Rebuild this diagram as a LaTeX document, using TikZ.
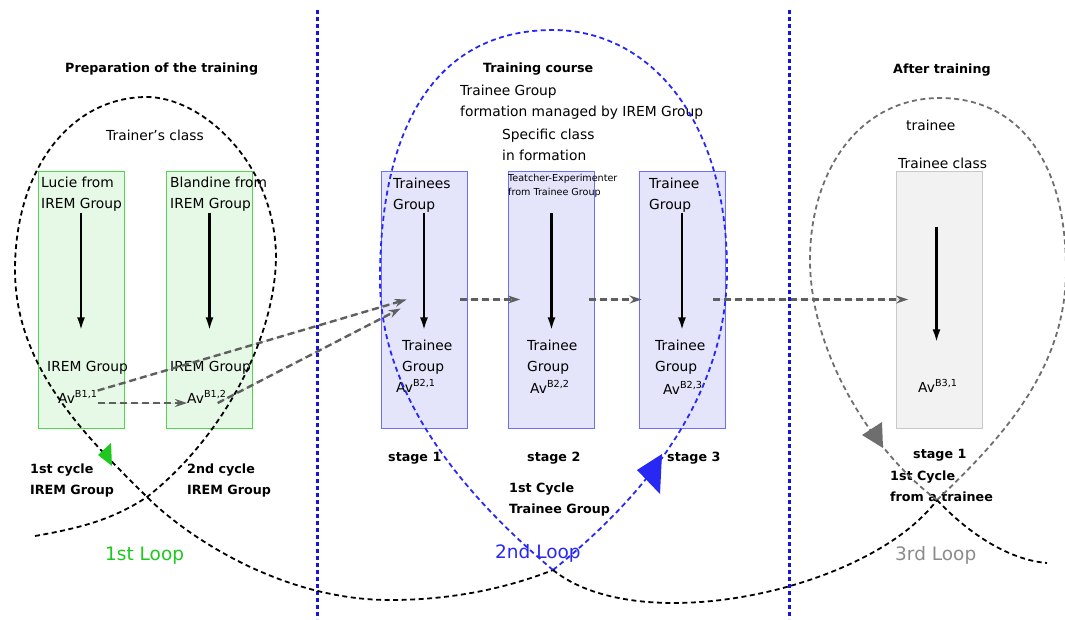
\documentclass[tikz,border=0pt]{standalone}
\usepackage{fontspec}
\setmainfont{DejaVu Sans}
\usetikzlibrary{arrows.meta, positioning}

\definecolor{boxgreen}{RGB}{80,215,80}
\definecolor{fillgreen}{RGB}{230,248,230}
\definecolor{boxblue}{RGB}{110,110,250}
\definecolor{fillblue}{RGB}{228,228,250}
\definecolor{boxgray}{RGB}{200,200,200}
\definecolor{fillgray}{RGB}{242,242,242}
\definecolor{loopgreen}{RGB}{30,200,30}
\definecolor{loopblue}{RGB}{40,40,245}
\definecolor{loopgray}{RGB}{110,110,110}
\definecolor{flowgray}{RGB}{95,95,95}
\definecolor{divblue}{RGB}{20,20,220}

\begin{document}
\begin{tikzpicture}[
    x=1pt, y=-1pt,
    greenbox/.style={rectangle, draw=boxgreen, fill=fillgreen, thick, minimum width=86pt, minimum height=257pt, inner sep=0pt},
    bluebox/.style={greenbox, draw=boxblue, fill=fillblue},
    graybox/.style={greenbox, draw=boxgray, fill=fillgray},
    txt/.style={anchor=base west, inner sep=0pt, font=\fontsize{13.8}{16}\selectfont},
    bold/.style={txt, font=\fontsize{12.7}{15}\selectfont\bfseries},
    small/.style={txt, font=\fontsize{9.6}{11}\selectfont},
    looplabel/.style={txt, font=\fontsize{18.5}{22}\selectfont},
    nextline/.style={below=21.5pt of #1.base west, anchor=base west},
    down_arrow/.style={-{Latex[length=13pt, width=8pt]}, line width=2.4pt},
    flow/.style={-{Stealth[length=12pt, width=8pt]}, draw=flowgray, fill=flowgray, line width=2.4pt, dash pattern=on 7pt off 4pt},
    divider/.style={draw=divblue, line width=3pt, dash pattern=on 4pt off 3pt},
    loopline/.style={line width=1.8pt, dash pattern=on 5pt off 3.5pt},
]
\useasboundingbox (0,0) rectangle (1065,619);

%% NODES
    % boxes
    \node[greenbox] (lucie_box) at (81,299.5) {};
    \node[greenbox] (blandine_box) at (209.5,299.5) {};
    \node[bluebox] (trainees_box) at (424,299.5) {};
    \node[bluebox] (experimenter_box) at (551.5,299.5) {};
    \node[bluebox] (trainee_box) at (682,299.5) {};
    \node[graybox] (class_box) at (939.5,299.5) {};

    % titles
    \node[bold] (prep_title) at (65,72) {Preparation of the training};
    \node[txt] (trainer_class) at (106,140) {Trainer's class};
    \node[bold] (course_title) at (483,72) {Training course};
    \node[txt] (course_l1) at (460,95) {Trainee Group};
    \node[txt, nextline=course_l1] (course_l2) {formation managed by IREM Group};
    \node[txt] (specific_l1) at (502,139) {Specific class};
    \node[txt, nextline=specific_l1] (specific_l2) {in formation};
    \node[bold] (after_title) at (893,73) {After training};
    \node[txt] (trainee_label) at (906,130) {trainee};
    \node[txt] (class_label) at (898,168) {Trainee class};

    % first loop boxes
    \node[txt] (lucie_l1) at (41,187) {Lucie from};
    \node[txt, nextline=lucie_l1] (lucie_l2) {IREM Group};
    \node[txt] (blandine_l1) at (170,187) {Blandine from};
    \node[txt, nextline=blandine_l1] (blandine_l2) {IREM Group};
    \node[txt] (lucie_out) at (47,371) {IREM Group};
    \node[txt] (av11) at (58,403) {Av\textsuperscript{B1,1}};
    \node[txt] (blandine_out) at (170,371) {IREM Group};
    \node[txt] (av12) at (187,403) {Av\textsuperscript{B1,2}};

    % second loop boxes
    \node[txt] (trainees_l1) at (393,188) {Trainees};
    \node[txt, nextline=trainees_l1] (trainees_l2) {Group};
    \node[small] (exp_l1) at (508,181) {Teatcher-Experimenter};
    \node[small, below=14pt of exp_l1.base west, anchor=base west] (exp_l2) {from Trainee Group};
    \node[txt] (trainee_l1) at (649,188) {Trainee};
    \node[txt, nextline=trainee_l1] (trainee_l2) {Group};
    \node[txt] (out1_l1) at (402,350) {Trainee};
    \node[txt, nextline=out1_l1] (out1_l2) {Group};
    \node[txt] (av21) at (396,392) {Av\textsuperscript{B2,1}};
    \node[txt] (out2_l1) at (527,350) {Trainee};
    \node[txt, nextline=out2_l1] (out2_l2) {Group};
    \node[txt] (av22) at (530,393) {Av\textsuperscript{B2,2}};
    \node[txt] (out3_l1) at (655,350) {Trainee};
    \node[txt, nextline=out3_l1] (out3_l2) {Group};
    \node[txt] (av23) at (663,394) {Av\textsuperscript{B2,3}};

    % third loop box
    \node[txt] (av31) at (918,392) {Av\textsuperscript{B3,1}};

    % cycles and stages
    \node[bold] (cycle1_l1) at (30,473) {1st cycle};
    \node[bold, nextline=cycle1_l1] (cycle1_l2) {IREM Group};
    \node[bold] (cycle2_l1) at (187,473) {2nd cycle};
    \node[bold, nextline=cycle2_l1] (cycle2_l2) {IREM Group};
    \node[bold] (stage1) at (388,461) {stage 1};
    \node[bold] (stage2) at (527,461) {stage 2};
    \node[bold] (stage3) at (667,461) {stage 3};
    \node[bold] (tcycle_l1) at (509,492) {1st Cycle};
    \node[bold, nextline=tcycle_l1] (tcycle_l2) {Trainee Group};
    \node[bold] (after_stage) at (913,458) {stage 1};
    \node[bold] (acycle_l1) at (890,480) {1st Cycle};
    \node[bold, nextline=acycle_l1] (acycle_l2) {from a trainee};

    % loop names
    \node[looplabel, text=loopgreen] (loop1) at (105,560) {1st Loop};
    \node[looplabel, text=loopblue] (loop2) at (495,558) {2nd Loop};
    \node[looplabel, text=loopgray!80] (loop3) at (895,560) {3rd Loop};

%% CONNECTORS
    \foreach \b in {lucie_box, blandine_box, trainees_box, experimenter_box, trainee_box}
        \draw[down_arrow] ([yshift=-42pt]\b.north) -- ([yshift=98pt]\b.south);
    \draw[down_arrow] ([xshift=-3pt, yshift=-56pt]class_box.north) -- ([xshift=-3pt, yshift=86pt]class_box.south);

    \draw[flow] (av11.base east) -- (av12.base west);
    \draw[flow] (av11.north east) -- ([xshift=26pt]trainees_box.west);
    \draw[flow] ([xshift=-9pt]av12.base east) -- ([xshift=20pt, yshift=-9pt]trainees_box.west);
    \draw[flow] ([xshift=-7pt]trainees_box.east) -- ([xshift=12pt]experimenter_box.west);
    \draw[flow] ([xshift=-6pt]experimenter_box.east) -- ([xshift=3pt]trainee_box.west);
    \draw[flow] ([xshift=-12pt]trainee_box.east) -- ([xshift=12pt]class_box.west);

    % phase borders
    \draw[divider] (317,10) -- (317,619);
    \draw[divider] (789,10) -- (789,619);

%% LOOPS
    % 1st loop
    \draw[loopline] (35,536) .. controls (80,528) and (112,520) .. (147,497)
        .. controls (220,440) and (276,340) .. (276,255)
        .. controls (274,160) and (200,97) .. (147,97)
        .. controls (70,97) and (15,170) .. (15,270)
        .. controls (15,370) and (90,440) .. (147,497)
        .. controls (185,535) and (280,600) .. (390,600)
        .. controls (460,600) and (515,585) .. (553,570);
    % 2nd loop
    \draw[loopline, draw=loopblue] (553,570) .. controls (640,500) and (727,400) .. (727,270)
        .. controls (727,120) and (650,30) .. (553,30)
        .. controls (440,30) and (380,120) .. (380,280)
        .. controls (380,400) and (470,500) .. (553,570);
    \draw[loopline] (553,570) .. controls (640,640) and (870,590) .. (937,500);
    % 3rd loop
    \draw[loopline, draw=loopgray] (937,500) .. controls (1000,440) and (1066,370) .. (1066,270)
        .. controls (1066,150) and (1010,98) .. (940,98)
        .. controls (860,98) and (810,170) .. (810,260)
        .. controls (810,350) and (870,450) .. (937,500);
    \draw[loopline] (937,500) .. controls (970,535) and (1010,560) .. (1047,563);

    % loop heads
    \fill[loopgreen] (98,455) -- (111,443) -- (112,466) -- cycle;
    \fill[loopblue] (637,470) -- (662,454) -- (660,494) -- cycle;
    \fill[loopgray] (862,435) -- (882,422) -- (883,448) -- cycle;

\end{tikzpicture}
\end{document}
